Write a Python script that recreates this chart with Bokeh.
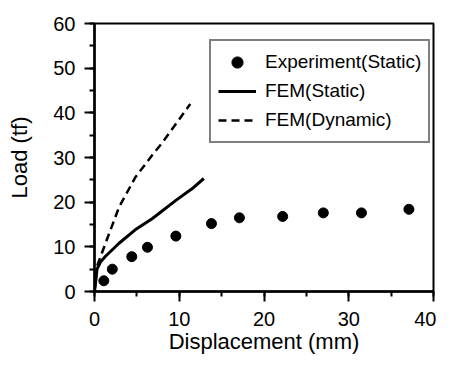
from bokeh.plotting import figure
from bokeh.models import Range1d, SingleIntervalTicker, Legend, LegendItem
from bokeh.embed import file_html
from bokeh.resources import INLINE

# Data
exp_x = [1.1, 2.1, 4.4, 6.25, 9.6, 13.8, 17.1, 22.2, 27.0, 31.5, 37.1]
exp_y = [2.4, 5.0, 7.8, 9.9, 12.4, 15.2, 16.5, 16.8, 17.6, 17.6, 18.4]

fem_static_x = [0.0, 0.1, 0.3, 0.7, 1.3, 2.9, 4.8, 6.8, 9.6, 11.5, 12.9]
fem_static_y = [0.0, 1.5, 5.0, 6.6, 7.9, 10.8, 13.8, 16.3, 20.4, 23.0, 25.3]

fem_dyn_x = [0.0, 0.1, 0.3, 1.3, 2.9, 4.8, 6.8, 8.0, 11.3]
fem_dyn_y = [0.0, 2.0, 5.7, 10.8, 18.9, 25.5, 30.5, 33.3, 42.0]

x_label = "Displacement (mm)"
y_label = "Load (tf)"
legend_labels = ["Experiment(Static)", "FEM(Static)", "FEM(Dynamic)"]

FONT = "Liberation Sans"

p = figure(width=436, height=356, output_backend="svg", toolbar_location=None,
           x_range=Range1d(0, 40), y_range=Range1d(0, 60),
           min_border_left=94, min_border_right=3, min_border_top=23, min_border_bottom=60)

p.xgrid.visible = False
p.ygrid.visible = False
p.outline_line_color = "black"
p.outline_line_width = 2
p.background_fill_color = "white"
p.border_fill_color = "white"

p.xaxis.ticker = SingleIntervalTicker(interval=10, num_minor_ticks=2)
p.yaxis.ticker = SingleIntervalTicker(interval=10, num_minor_ticks=2)

for ax in (p.xaxis[0], p.yaxis[0]):
    ax.axis_line_width = 2.5
    ax.axis_line_color = "black"
    ax.major_tick_line_width = 2
    ax.minor_tick_line_width = 2
    ax.major_tick_out = 10
    ax.major_tick_in = 0
    ax.minor_tick_out = 5
    ax.minor_tick_in = 0
    ax.major_label_text_font = FONT
    ax.major_label_text_font_size = "20px"
    ax.major_label_text_color = "black"
    ax.major_label_text_line_height = 0.9
    ax.axis_label_text_font = FONT
    ax.axis_label_text_font_size = "22px"
    ax.axis_label_text_font_style = "normal"
    ax.axis_label_text_color = "black"
    ax.axis_label_text_line_height = 0.9

p.xaxis.axis_label = x_label
p.yaxis.axis_label = y_label
p.xaxis.major_label_standoff = 10
p.xaxis.axis_label_standoff = 0
p.yaxis.major_label_standoff = 9
p.yaxis.axis_label_standoff = 18

r_exp = p.scatter(exp_x, exp_y, size=10, color="black", marker="circle")
r_st = p.line(fem_static_x, fem_static_y, line_width=3, color="black")
r_dy = p.line(fem_dyn_x, fem_dyn_y, line_width=2.5, color="black", line_dash="8 5")

legend = Legend(items=[LegendItem(label=legend_labels[0], renderers=[r_exp]),
                       LegendItem(label=legend_labels[1], renderers=[r_st]),
                       LegendItem(label=legend_labels[2], renderers=[r_dy])],
                location=(115, 148))
legend.border_line_color = "black"
legend.border_line_width = 2
legend.background_fill_color = "white"
legend.background_fill_alpha = 1
legend.label_text_font = FONT
legend.label_text_font_size = "19px"
legend.label_text_color = "black"
legend.glyph_width = 38
legend.label_standoff = 9
legend.padding = 7
legend.spacing = 1
legend.label_height = 28
legend.glyph_height = 28
legend.margin = 0
p.add_layout(legend, "center")

open("out.html", "w").write(file_html(p, INLINE))
